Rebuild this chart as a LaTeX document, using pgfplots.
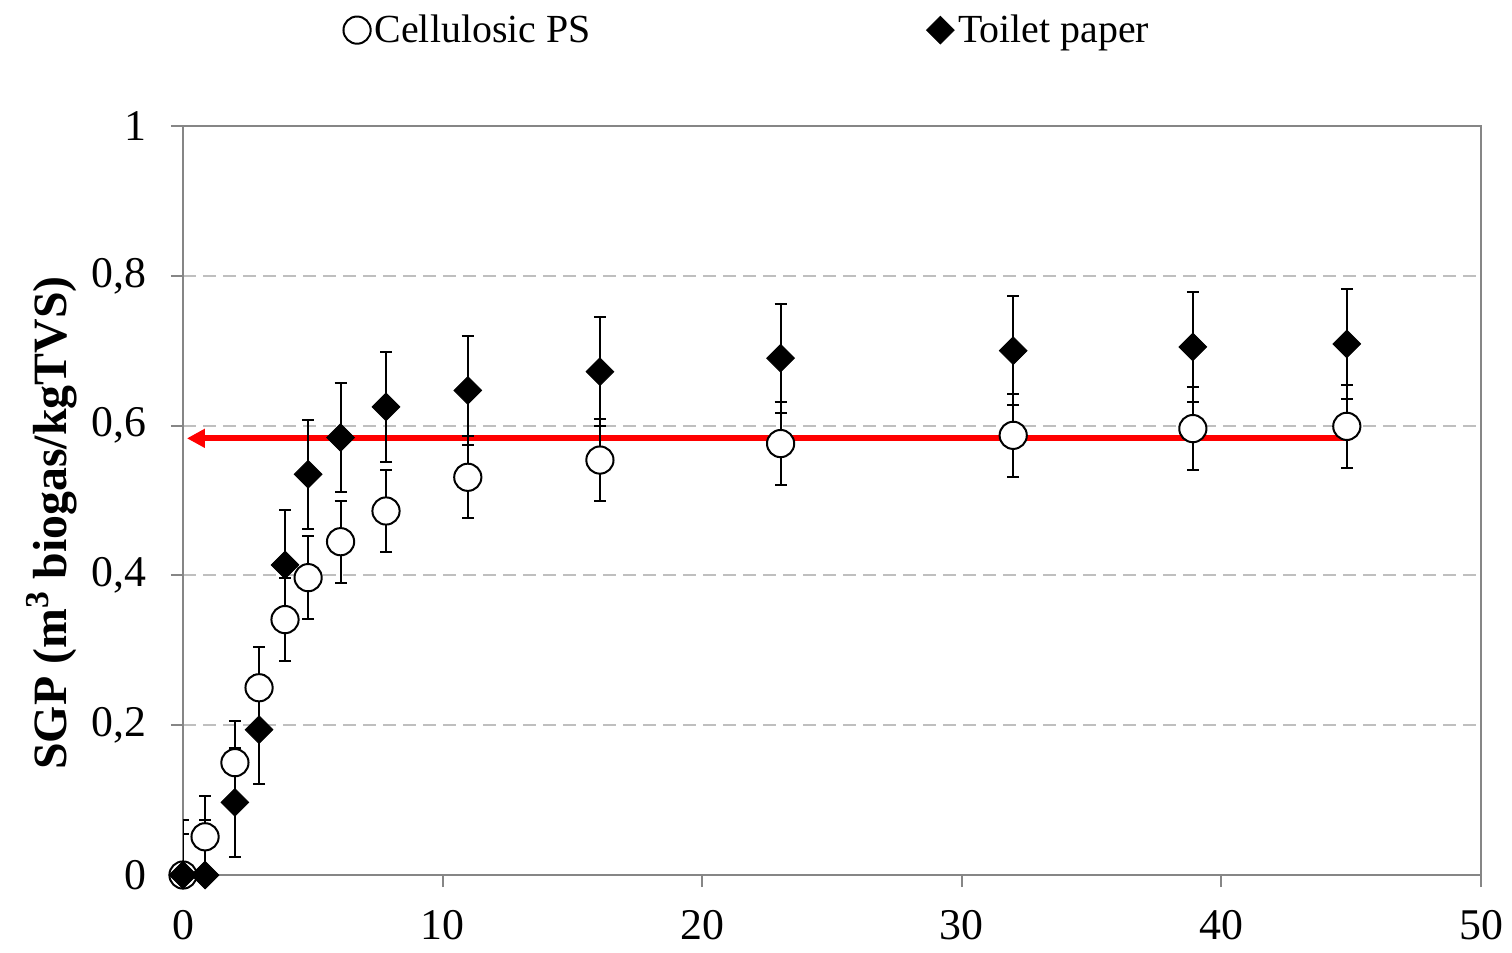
\documentclass[border=0pt]{standalone}
\usepackage{fontspec}
\setmainfont{Liberation Serif}
\usepackage{pgfplots}
\pgfplotsset{compat=1.18}
\usetikzlibrary{arrows.meta}
\definecolor{axgray}{HTML}{868686}
\definecolor{gridgray}{HTML}{BFBFBF}
\begin{document}
\begin{tikzpicture}
\begin{axis}[
  scale only axis, width=649bp, height=374.5bp,
  xmin=0, xmax=50, ymin=0, ymax=1,
  xtick={0,10,20,30,40,50}, xticklabels={0,10,20,30,40,50},
  ytick={0,0.2,0.4,0.6,0.8,1}, yticklabels={0,{0,2},{0,4},{0,6},{0,8},1},
  ymajorgrids,
  grid style={gridgray, dash pattern=on 6.5bp off 3.5bp, line width=1bp},
  axis line style={axgray, line width=1bp},
  tick style={axgray, line width=1bp},
  tick align=outside, major tick length=6bp, tick pos=left,
  ticklabel style={font=\fontsize{22}{26}\selectfont},
  xticklabel style={yshift=-8bp},
  yticklabel style={xshift=-9bp},
  ylabel={SGP (m\textsuperscript{3} biogas/kgTVS)},
  ylabel style={at={(ticklabel cs:0.47)}, font=\fontsize{24}{28}\selectfont\bfseries},
  legend columns=2,
  legend style={draw=none, fill=none, at={(0.4355,1.128)}, anchor=center,
    font=\fontsize{20}{24}\selectfont,
    /tikz/every even column/.append style={column sep=166bp}},
  legend cell align=left,
]
\coordinate (SW) at (rel axis cs:0,0);
\coordinate (NE) at (rel axis cs:1,1);
\addplot[red, line width=3bp, -{Triangle[length=9bp,width=9bp]}, forget plot]
  coordinates {(44.95,0.583) (0.15,0.583)};
\addplot[only marks, mark=*, mark size=6.8bp,
  mark options={fill=white, draw=black, line width=1bp},
  error bars/.cd, y dir=both, y fixed=0.055,
  error bar style={black, line width=1bp},
  error mark options={black, line width=1bp, mark size=3bp, rotate=90}]
  coordinates {
  (0,0) (0.85,0.051) (2.0,0.150) (2.93,0.250) (3.93,0.341) (4.82,0.397)
  (6.07,0.445) (7.82,0.486) (10.97,0.531) (16.06,0.554) (23.02,0.576)
  (31.98,0.587) (38.9,0.596) (44.83,0.599)};
\addlegendentry{Cellulosic PS}
\addplot[only marks, mark=square*, mark size=4.9bp,
  mark options={rotate=45, fill=black, draw=black},
  error bars/.cd, y dir=both, y fixed=0.073,
  error bar style={black, line width=1bp},
  error mark options={black, line width=1bp, mark size=3bp, rotate=90}]
  coordinates {
  (0,0) (0.85,0) (2.0,0.097) (2.93,0.194) (3.93,0.414) (4.82,0.535)
  (6.07,0.584) (7.82,0.625) (10.97,0.647) (16.06,0.672) (23.02,0.690)
  (31.98,0.700) (38.9,0.705) (44.83,0.709)};
\addlegendentry{Toilet paper}
\end{axis}
\pgfresetboundingbox
\path[use as bounding box] ([shift={(-91.5bp,-38.5bp)}]SW) rectangle ([shift={(15.5bp,63bp)}]NE);
\end{tikzpicture}
\end{document}
